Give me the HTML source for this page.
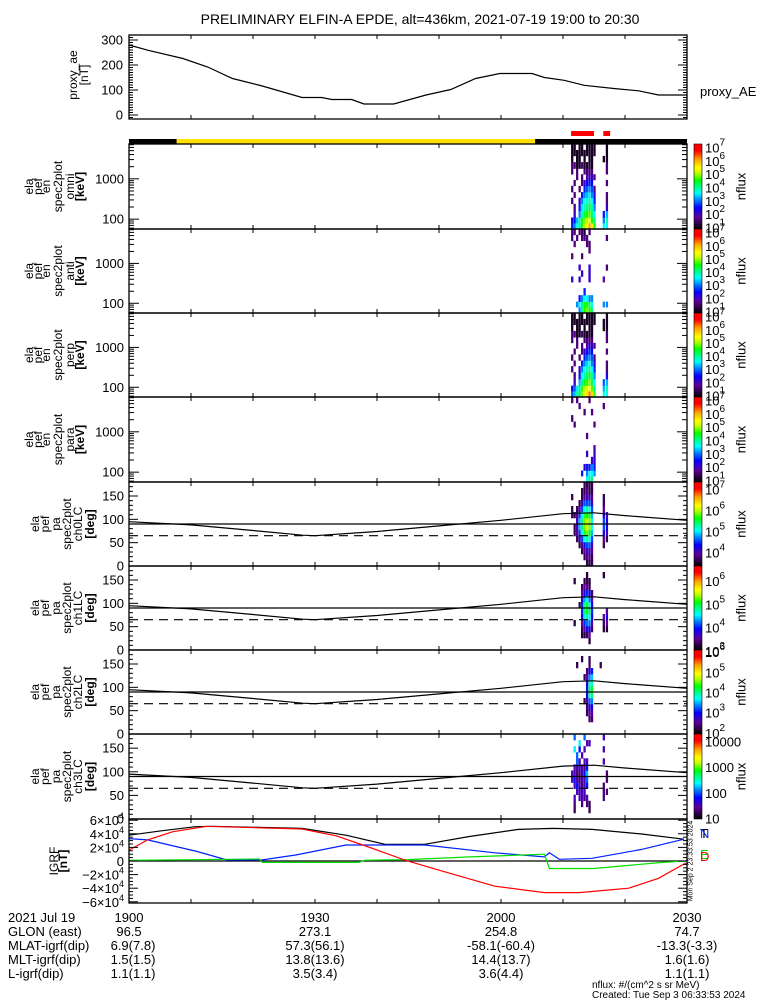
<!DOCTYPE html>
<html><head><meta charset="utf-8"><style>
html,body{margin:0;padding:0;background:#fff;}
svg{display:block;font-family:"Liberation Sans",sans-serif;}
</style></head><body>
<svg id="chart" width="775" height="1000" viewBox="0 0 775 1000" xmlns="http://www.w3.org/2000/svg">
<defs>
<linearGradient id="cmap" x1="0" y1="1" x2="0" y2="0">
<stop offset="0" stop-color="#000000"/><stop offset="0.06" stop-color="#2a0040"/><stop offset="0.14" stop-color="#6000a0"/>
<stop offset="0.25" stop-color="#0000ff"/><stop offset="0.35" stop-color="#0090ff"/><stop offset="0.42" stop-color="#00ffff"/>
<stop offset="0.5" stop-color="#00ff80"/><stop offset="0.57" stop-color="#00ff00"/><stop offset="0.66" stop-color="#c0ff00"/>
<stop offset="0.72" stop-color="#ffff00"/><stop offset="0.82" stop-color="#ffa000"/><stop offset="0.92" stop-color="#ff0000"/><stop offset="1" stop-color="#ff0000"/>
</linearGradient>
</defs>
<text x="420" y="24" font-size="14" text-anchor="middle">PRELIMINARY ELFIN-A EPDE, alt=436km, 2021-07-19 19:00 to 20:30</text>
</svg>
<script>
// ---------- data ----------
const aeTimes = [0,3.1,8.7,12.7,16.7,21.5,27.9,31.1,32.7,35.9,37.9,42.7,47.9,51.9,55.9,59.8,65,67,70.2,73.4,78.2,82.2,85.4,90];
const aeValues = [280,259,226,192,146,116,70,70,62,62,44,44,80,102,146,166,166,150,139,119,106,97,80,80];
const barSegStart = [0,7.7,65.5];
const barSegEnd = [7.7,65.5,90];
const barSegColor = ['#000','#ffe000','#000'];
const redMarkStart = [71.3,76.5];
const redMarkEnd = [75.0,77.6];
const colTimes = [71.3,71.7,72.1,72.5,72.9,73.3,73.7,74.1,74.5,74.9,75.9,76.4,76.9];
const colWidth = 0.32;
const energyEdges = [60,80,110,160,240,340,470,670,940,1300,1800,2600,3700,5200,7300];
const paEdges = [0,12.86,25.71,38.57,51.43,64.29,77.14,90,102.86,115.71,128.57,141.43,154.29,167.14,180];
const specOmni = [
[2.5,3,3.5,4,4.5,5,5.3,6,5.5,4.5,0,3.5,3.5],
[2.2,2.5,3.2,3.8,4.5,4.8,5,5.2,4.5,4,0,3,3.8],
[0,2,0,3,3.8,4.3,4.5,4.7,4,3.5,0,2.5,3.2],
[0,1.5,0,2.5,3.4,3.8,4,4.2,3.8,3,0,0,2],
[1.5,0,0,2,3,3.5,3.7,3.8,3.5,2.5,0,0,1.5],
[0,1.5,0,0,2.5,3,3.2,3.4,3,2,0,0,1.5],
[1.5,0,0,1.5,0,2.5,2.8,3,2.7,1.5,0,0,0],
[0,1.5,0,0,1.5,2,2.3,2.5,2.3,0,0,0,1.5],
[0,0,1.5,0,1.5,0,1.8,2,2,1.5,0,0,0],
[1.5,0,1.5,0,0,1.5,1.5,1.5,1.5,0,0,0,1.5],
[1.5,1.5,1,1,1.5,1,1,1.2,1,0,0,0,1.5],
[1,0,1,1,0,1,0,1,1,0,0,1,1],
[1,1,1,1,1,1,1,1,1,1,0,0,1],
[1,1,0,1,1,0,1,1,1,1,0,0,1]];
const specAnti = [
[0,0,0,3,4,4.5,4.8,4.5,4,0,0,0,0],
[0,0,3,3.5,4,4.5,4.5,4,3.5,0,0,3,3],
[0,0,0,2.5,3,3.5,3.5,3,3,0,0,0,0],
[0,0,0,0,0,2.5,0,0,0,0,0,0,0],
[0,0,0,0,0,0,0,0,0,0,0,0,0],
[2,0,0,2,0,0,0,2,0,0,0,1.8,0],
[0,0,0,0,2,0,0,2,0,0,0,0,0],
[0,0,0,2,0,0,0,2,0,0,0,0,1.5],
[0,0,0,0,0,0,0,0,0,0,0,0,0],
[1.5,0,0,0,1.5,0,0,0,0,0,0,0,0],
[0,0,0,0,0,0,0,1.5,0,0,0,0,0],
[0,1.5,0,0,0,0,1.5,1.5,0,0,0,0,0],
[1.5,0,1.5,0,1.5,1.5,1.5,0,0,0,0,0,1.5],
[1.5,1.5,0,1.5,1.5,1,0,1.5,0,0,0,0,0]];
const specPerp = [
[2.8,3.2,3.8,4.2,4.8,5.2,5.6,6.2,5.6,4.6,0,3.6,3.6],
[2.2,2.8,3.4,4,4.6,5,5.2,5.4,4.7,4.1,0,3.2,3.8],
[0,2,0,3.2,4,4.4,4.6,4.8,4.1,3.5,0,2.8,3.2],
[0,1.5,0,2.5,3.5,3.9,4.1,4.3,3.9,3,0,0,2.2],
[1.5,0,0,2,3,3.5,3.8,3.9,3.5,2.5,0,0,1.5],
[0,1.5,0,0,2.5,3,3.3,3.5,3,2,0,0,1.5],
[1.5,0,0,1.5,0,2.5,2.8,3,2.8,1.5,0,0,0],
[0,1.5,0,0,1.5,2,2.3,2.6,2.4,0,0,0,1.5],
[0,0,1.5,0,1.5,0,1.8,2.1,2,1.5,0,0,0],
[1.5,0,1.5,0,0,1.5,1.5,1.5,1.5,0,0,0,1.5],
[1.5,1.5,1,1,1.5,1,1,1.2,1,0,0,0,1.5],
[1,0,1,1,0,1,0,1,1,0,0,1,1],
[1,1,1,1,1,1,1,1,1,1,0,1,1],
[1,1,0,1,1,0,1,1,1,1,0,0,1]];
const specPara = [
[0,0,0,0,0,0,3.5,3.8,4,0,0,0,0],
[0,0,0,0,2.5,0,3,3.5,3.5,3,0,0,0],
[0,0,0,0,0,2,2.5,2.5,3,2.5,0,0,0],
[0,0,0,0,0,0,0,0,2,2,0,0,0],
[0,0,0,0,0,0,2,0,0,2,0,0,0],
[0,0,0,0,0,0,0,0,0,1.8,0,0,0],
[0,0,0,0,0,0,0,0,0,0,0,0,0],
[0,0,0,0,0,0,1.5,0,0,0,0,0,0],
[0,0,0,0,0,0,0,0,0,0,0,0,0],
[0,1.5,0,0,0,0,0,0,0,1.5,0,0,0],
[1.5,0,0,0,0,0,0,0,0,0,0,0,0],
[0,0,0,0,0,1.5,0,0,1.5,0,0,0,0],
[0,0,0,1.5,0,0,0,0,0,0,0,1.5,0],
[1.5,0,1.5,0,0,0,0,1.5,0,0,0,0,0]];
const paCh0 = [
[0,0,0,0,0,0,3.6,3.6,3.6,0,0,0,0],
[0,0,0,0,0,3.6,3.8,3.8,3.6,0,0,0,0],
[0,0,0,0,3.6,3.8,4,4,3.8,0,0,0,0],
[0,0,0,3.6,3.8,4.2,4.5,4.5,4,0,0,3.6,0],
[0,0,3.6,4,4.5,5,5.2,5,4.5,0,0,3.8,3.6],
[0,3.6,3.8,4.5,5,5.5,5.8,5.5,4.8,0,0,4.2,4],
[0,3.6,4,4.8,5.3,5.8,6,5.8,5,0,0,4.5,4.2],
[0,0,4,4.8,5.3,5.8,6,5.8,5,0,0,4.5,4.2],
[3.6,3.6,3.8,4.5,5,5.5,5.6,5.5,4.8,0,0,4.2,4],
[3.6,0,3.6,4,4.5,5,5.2,5,4.5,0,0,3.8,0],
[0,0,0,3.6,4,4.5,4.5,4.5,4,0,0,3.6,0],
[3.6,0,0,0,3.6,3.8,4,4,3.8,0,0,3.6,0],
[0,0,0,0,3.6,3.6,3.8,3.6,3.6,0,0,0,0],
[0,0,0,0,0,3.6,3.6,3.6,3.6,0,0,0,0]];
const paCh1 = [
[0,0,0,0,0,0,0,0,0,0,0,0,0],
[0,0,0,0,0,0,0,3.2,0,0,0,0,0],
[0,0,0,0,3.2,3.2,3.3,3.5,0,0,0,0,0],
[0,0,0,0,3.3,3.5,3.8,3.8,3.3,0,0,3.2,3.2],
[0,3.2,0,0,3.5,4,4.2,4.2,3.5,0,0,3.3,3.5],
[0,0,0,0,3.8,4.5,4.7,4.5,3.8,0,0,3.5,3.8],
[0,0,0,0,4,4.8,5,4.8,4,0,0,0,3.5],
[0,0,0,3.3,4,4.8,5,4.5,3.8,0,0,0,0],
[0,0,0,0,3.8,4.3,4.5,4.2,3.5,0,0,0,0],
[0,0,0,0,3.5,3.8,4,3.8,3.3,0,0,0,0],
[0,0,0,0,3.3,3.5,3.5,3.3,0,0,0,0,0],
[0,3.2,0,0,0,3.2,3.3,3.2,0,0,0,0,0],
[0,0,0,0,0,0,3.2,0,0,0,0,3.2,0],
[0,0,0,0,0,0,0,0,0,0,0,0,0]];
const paCh2 = [
[0,0,0,0,0,0,0,0,0,0,0,0,0],
[0,0,0,0,0,0,0,0,0,0,0,0,0],
[0,0,0,0,0,0,0,2.3,2.3,0,0,0,0],
[0,0,0,0,0,0,2.2,2.5,2.5,0,0,0,0],
[0,0,0,0,0,0,2.3,2.8,2.8,0,0,0,0],
[0,0,0,0,0,2.2,2.5,3.2,3.3,0,0,0,0],
[0,0,0,0,0,0,2.8,3.8,4,0,0,0,0],
[0,0,0,0,0,0,3,4,4.2,0,0,0,0],
[0,0,0,0,0,0,2.8,3.8,3.8,0,0,0,0],
[0,0,0,0,0,2.2,2.5,3.3,3.5,0,0,0,0],
[0,0,0,0,0,0,2.3,2.8,3,0,0,0,0],
[0,0,2.2,0,0,0,0,2.3,0,0,2.2,0,0],
[0,0,0,0,2.2,0,0,2.2,0,0,0,0,0],
[0,0,0,0,0,0,0,0,0,0,0,0,0]];
const paCh3 = [
[0,0,0,0,0,0,0,0,0,0,0,0,0],
[0,1.2,0,0,0,0,0,1.2,0,0,0,0,0],
[0,1.3,0,0,1.3,0,1.3,1.2,0,0,0,0,0],
[0,1.5,0,1.5,1.5,1.3,1.5,0,0,0,0,1.3,0],
[0,0,1.5,1.5,1.5,1.5,0,0,0,0,0,1.3,1.3],
[0,1.5,1.8,1.5,1.3,1.5,1.8,0,0,0,0,1.3,0],
[1.5,1.8,1.5,1.3,1.5,1.5,2,0,0,0,0,0,1.3],
[1.5,1.5,1.3,1.3,1.5,1.8,2.2,0,0,0,0,0,1.3],
[0,1.5,1.5,1.5,1.5,1.3,1.8,0,0,0,0,0,0],
[0,0,2,1.5,0,1.5,1.5,0,0,0,0,1.5,0],
[0,0,2,0,1.5,0,0,0,0,0,0,0,0],
[0,2.3,0,1.8,0,1.5,0,0,0,0,0,1.5,0],
[0,0,0,2.3,0,0,1.5,1.5,0,0,0,0,0],
[0,2,0,0,0,2,0,0,0,0,0,1.5,0]];
const lcTimes = [0,10,20,28,30,40,50,60,70,75,80,90];
const lcValues = [95,88,76,66,65,74,86,98,112,114,108,98];
const paSolidLine = 90;
const paDashedLine = 65;
const igrfTimes = [0,3,7,12.5,27.9,33.4,38.2,44.6,51,59,67,72.6,80.6,85.4,89.8];
const igrfD = [1.6,3.1,4.3,5.1,4.7,3.7,2.2,0.1,-1.6,-3.7,-4.65,-4.65,-4.0,-2.55,-0.3];
const igrfTTimes = [0,5.4,10.7,13.5,27.9,35,41.3,47.7,54.9,62.8,68.4,74.7,82.7,89.5];
const igrfT = [3.8,4.45,5.05,5.1,4.8,3.8,2.45,2.45,3.6,4.65,4.8,4.65,3.97,3.2];
const igrfNTimes = [0,3,11,15.8,21.4,27,35,47.7,59,67,67.8,69.4,74.7,82.7,89.5];
const igrfN = [3.3,3.1,1.4,0.15,0.15,0.9,2.35,2.35,1.2,0.6,1.2,0.25,0.4,1.7,3.2];
const igrfETimes = [0,21,21.5,37,38,45,55,67,67.8,75,86,90];
const igrfE = [0.1,0.3,-0.2,-0.2,0.1,0.2,0.6,1.0,-1.1,-1.1,-0.2,0];
const footRowLabels = ['2021 Jul 19','GLON (east)','MLAT-igrf(dip)','MLT-igrf(dip)','L-igrf(dip)'];
const footTimes = [0,30,60,90];
const footTimeLabels = ['1900','1930','2000','2030'];
const footGlon = ['96.5','273.1','254.8','74.7'];
const footMlat = ['6.9(7.8)','57.3(56.1)','-58.1(-60.4)','-13.3(-3.3)'];
const footMlt = ['1.5(1.5)','13.8(13.6)','14.4(13.7)','1.6(1.6)'];
const footL = ['1.1(1.1)','3.5(3.4)','3.6(4.4)','1.1(1.1)'];

// ---------- helpers ----------
const svg = document.getElementById('chart');
const NS = 'http://www.w3.org/2000/svg';
const X0 = 129, X1 = 687;
function xs(t){ return X0 + t/90*(X1-X0); }
function mk(tag, at, parent){
  const e = document.createElementNS(NS, tag);
  for (const k in at) e.setAttribute(k, at[k]);
  (parent||svg).appendChild(e);
  return e;
}
const stops = [[0,[0,0,0]],[0.06,[42,0,64]],[0.14,[96,0,160]],[0.25,[0,0,255]],[0.35,[0,144,255]],[0.42,[0,255,255]],[0.5,[0,255,128]],[0.57,[0,255,0]],[0.66,[192,255,0]],[0.72,[255,255,0]],[0.82,[255,160,0]],[0.92,[255,0,0]],[1,[255,0,0]]];
function cmap(v){
  v = Math.max(0, Math.min(1, v));
  for (let i=1;i<stops.length;i++){
    if (v <= stops[i][0]){
      const a=stops[i-1], b=stops[i], f=(v-a[0])/(b[0]-a[0]);
      const c=a[1].map((q,j)=>Math.round(q+(b[1][j]-q)*f));
      return 'rgb('+c.join(',')+')';
    }
  }
  return 'rgb(255,0,0)';
}
function rotLabel(lines, xsArr, cy, bold, name){
  const g = mk('g', {});
  
  
  lines.forEach((s,i)=>{
    const t = mk('text', {x:0, y:0, 'font-size':12, 'text-anchor':'middle', 'dominant-baseline':'central', transform:'translate('+xsArr[i]+','+cy+') rotate(-90)'}, g);
    if (bold && i===lines.length-1) t.setAttribute('font-weight','bold');
    t.textContent = s;
  });
}
function xTicks(top, bot, g){
  for (let m=10;m<90;m+=10){
    const x = xs(m);
    mk('line', {x1:x, x2:x, y1:bot, y2:bot-4, stroke:'#000'}, g);
    mk('line', {x1:x, x2:x, y1:top, y2:top+4, stroke:'#000'}, g);
  }
}
function frame(top, bot, name){
  const r = mk('rect', {x:X0, y:top, width:X1-X0, height:bot-top, fill:'none', stroke:'#000', 'stroke-width':1.3});
  
  
}
function tickLabel(x, y, txt, name){
  const t = mk('text', {x:x, y:y, 'font-size':13, 'text-anchor':'end', 'dominant-baseline':'central'});
  t.textContent = txt;
  
  
}
function colorbar(top, bot, vmin, vmax, labels, sup, name){
  const g = mk('g', {});
  
  
  mk('rect', {x:694, y:top, width:8, height:bot-top, fill:'url(#cmap)', stroke:'#000', 'stroke-width':0.6}, g);
  labels.forEach(p=>{
    const y = bot - (p - vmin)/(vmax-vmin)*(bot-top);
    const t = mk('text', {x:705, y:y+6, 'font-size':13}, g);
    if (sup){
      t.textContent = '10';
      const s = mk('tspan', {'font-size':10, dy:-7}, t);
      s.textContent = String(p);
    } else {
      t.textContent = String(Math.pow(10,p));
    }
  });
  const nf = mk('text', {x:0, y:0, 'font-size':13, 'text-anchor':'middle', 'dominant-baseline':'central', transform:'translate(741,'+((top+bot)/2)+') rotate(-90)'}, g);
  nf.textContent = 'nflux';
}
function drawCells(mat, edges, yfun, vmin, vmax, g, cellName){
  mat.forEach((row, r)=>{
    row.forEach((v, c)=>{
      if (!v) return;
      const xa = xs(colTimes[c]), xb = xs(colTimes[c]+colWidth);
      const ya = yfun(edges[r+1]), yb = yfun(edges[r]);
      const rc = mk('rect', {x:xa, y:ya, width:xb-xa+0.3, height:yb-ya+0.3, fill:cmap((v-vmin)/(vmax-vmin))}, g);
      
      
    });
  });
}
function polyline(times, vals, xf, yf, color, g, name, dash){
  const pts = times.map((t,i)=>xf(t).toFixed(1)+','+yf(vals[i]).toFixed(1)).join(' ');
  const p = mk('polyline', {points:pts, fill:'none', stroke:color, 'stroke-width':1.2}, g);
  if (dash) p.setAttribute('stroke-dasharray', dash);
  
  
}

// ---------- top proxy AE panel ----------
(function(){
  const top=35, bot=119;
  const yv = v => 115 - v*0.25;
  const g = mk('g', {});
  
  
  polyline(aeTimes, aeValues, xs, yv, '#000', g, 'proxy-ae-line');
  for (let v=-10; v<=320; v+=10){
    const y = yv(v); if (y<top||y>bot) continue;
    const L = v%100===0 ? 9 : 4;
    mk('line', {x1:X0, x2:X0+L, y1:y, y2:y, stroke:'#000'}, g);
    mk('line', {x1:X1, x2:X1-L, y1:y, y2:y, stroke:'#000'}, g);
  }
  xTicks(top, bot, g);
  frame(top, bot, 'proxy-ae-frame');
  [0,100,200,300].forEach(v=>tickLabel(123, yv(v), String(v), 'proxy-ae-tick-label'));
  rotLabel(['proxy_ae','[nT]'], [73,84], 75, false, 'proxy-ae-y-axis-title');
  const t = mk('text', {x:700, y:96, 'font-size':13});
  t.textContent = 'proxy_AE';
  
  
})();

// ---------- region bar ----------
barSegStart.forEach((s,i)=>{
  const r = mk('rect', {x:xs(s), y:139, width:xs(barSegEnd[i])-xs(s), height:5, fill:barSegColor[i]});
  
  
});
redMarkStart.forEach((s,i)=>{
  const r = mk('rect', {x:xs(s), y:131, width:xs(redMarkEnd[i])-xs(s), height:5, fill:'#ff0000'});
  
  
});

// ---------- energy spectrogram panels ----------
const enPanels = [[144,229,specOmni,'omni'],[229,313,specAnti,'anti'],[313,397,specPerp,'perp'],[397,482,specPara,'para']];
enPanels.forEach(([top,bot,mat,nm])=>{
  const lt = Math.log10(7300), lb = Math.log10(57);
  const ey = E => top + (lt - Math.log10(E))/(lt-lb)*(bot-top);
  const g = mk('g', {});
  
  
  drawCells(mat, energyEdges, ey, 0.8, 7.2, g, 'spectrogram-cell');
  for (let d=10; d<=1000; d*=10){
    for (let k=1;k<10;k++){
      const E=d*k, y=ey(E); if (y<top||y>bot) continue;
      const L = k===1 ? 10 : 5;
      mk('line', {x1:X0, x2:X0+L, y1:y, y2:y, stroke:'#000'}, g);
      mk('line', {x1:X1, x2:X1-L, y1:y, y2:y, stroke:'#000'}, g);
    }
  }
  xTicks(top, bot, g);
  frame(top, bot, 'spectrogram-frame-'+nm);
  tickLabel(124, ey(1000), '1000', 'energy-tick-label');
  tickLabel(124, ey(100), '100', 'energy-tick-label');
  rotLabel(['ela','pef','en','spec2plot',nm,'[keV]'], [29,38,46,58,70,80], (top+bot)/2, true, 'spectrogram-y-axis-title-'+nm);
  colorbar(top, bot, 0.8, 7.2, [1,2,3,4,5,6,7], true, 'colorbar-'+nm);
});

// ---------- pitch angle panels ----------
const paPanels = [[482,566,paCh0,'ch0LC',3.3,7.3,[4,5,6,7],true],[566,650,paCh1,'ch1LC',3.0,6.6,[3,4,5,6],true],[650,734,paCh2,'ch2LC',1.9,6.05,[2,3,4,5,6],true],[734,819,paCh3,'ch3LC',0.95,4.25,[1,2,3,4],false]];
paPanels.forEach(([top,bot,mat,nm,vmin,vmax,labs,sup])=>{
  const py = v => bot - v/180*(bot-top);
  const g = mk('g', {});
  
  
  drawCells(mat, paEdges, py, vmin, vmax, g, 'pitch-angle-cell');
  polyline(lcTimes, lcValues, xs, py, '#000', g, 'loss-cone-line');
  polyline([0,90], [paSolidLine,paSolidLine], xs, py, '#000', g, 'pa-90-line');
  polyline([0,90], [paDashedLine,paDashedLine], xs, py, '#000', g, 'antiloss-cone-line', '9,6');
  for (let v=0; v<=180; v+=10){
    const y=py(v); const L = v%50===0 ? 9 : 4;
    mk('line', {x1:X0, x2:X0+L, y1:y, y2:y, stroke:'#000'}, g);
    mk('line', {x1:X1, x2:X1-L, y1:y, y2:y, stroke:'#000'}, g);
  }
  xTicks(top, bot, g);
  frame(top, bot, 'pitch-angle-frame-'+nm);
  [0,50,100,150].forEach(v=>tickLabel(124, py(v), String(v), 'pa-tick-label'));
  rotLabel(['ela','pef','pa','spec2plot',nm,'[deg]'], [35,45,56,67,78,90], (top+bot)/2, true, 'pitch-angle-y-axis-title-'+nm);
  colorbar(top, bot, vmin, vmax, labs, sup, 'colorbar-'+nm);
});

// ---------- IGRF panel ----------
(function(){
  const top=819, bot=903;
  const iy = v => 861 - v*6.8;
  const g = mk('g', {});
  
  
  polyline([0,90],[0,0], xs, iy, '#000', g, 'igrf-zero-line');
  polyline(igrfTTimes, igrfT, xs, iy, '#000', g, 'igrf-total-line');
  polyline(igrfNTimes, igrfN, xs, iy, '#0020ff', g, 'igrf-n-line');
  polyline(igrfETimes, igrfE, xs, iy, '#00e000', g, 'igrf-e-line');
  polyline(igrfTimes, igrfD, xs, iy, '#ff0000', g, 'igrf-d-line');
  for (let v=-6; v<=6; v+=0.5){
    const y=iy(v); if (y<top||y>bot) continue;
    const L = Math.abs(v%2)<0.01 ? 9 : 4;
    mk('line', {x1:X0, x2:X0+L, y1:y, y2:y, stroke:'#000'}, g);
    mk('line', {x1:X1, x2:X1-L, y1:y, y2:y, stroke:'#000'}, g);
  }
  xTicks(top, bot, g);
  frame(top, bot, 'igrf-frame');
  [-6,-4,-2,0,2,4,6].forEach(v=>{
    const t = mk('text', {x:124, y:iy(v)+5, 'font-size':13, 'text-anchor':'end'});
    
    
    if (v===0){ t.textContent='0'; return; }
    t.textContent = (v<0?'\u2212':'')+Math.abs(v)+'\u00d710';
    const s = mk('tspan', {'font-size':9, dy:-6}, t);
    s.textContent = '4';
  });
  rotLabel(['IGRF','[nT]'], [54,63], 861, true, 'igrf-y-axis-title');
  const leg = [['T','#000',838],['N','#0020ff',838],['E','#00e000',859],['D','#ff0000',861]];
  leg.forEach(([s,c,y])=>{
    const t = mk('text', {x:700, y:y, 'font-size':13, fill:c});
    t.textContent = s;
    
    
  });
  const d = mk('text', {x:0, y:0, 'font-size':7, 'text-anchor':'middle', 'dominant-baseline':'central', transform:'translate(691,861) rotate(-90)'});
  d.textContent = 'Mon Sep  2 23:33:53 2024';
  
  
})();

// ---------- footer ----------
const footRows = [footTimeLabels, footGlon, footMlat, footMlt, footL];
footRowLabels.forEach((lab,i)=>{
  const y = 922 + i*14;
  const t = mk('text', {x:8, y:y, 'font-size':13});
  t.textContent = lab;
  
  
  footRows[i].forEach((v,j)=>{
    const tv = mk('text', {x:xs(footTimes[j])+(i>=2&&j===0?4:0), y:y, 'font-size':13, 'text-anchor':'middle'});
    tv.textContent = v;
    
    
  });
});
const n1 = mk('text', {x:592, y:988, 'font-size':10});
n1.textContent = 'nflux: #/(cm^2 s sr MeV)';


const n2 = mk('text', {x:592, y:998, 'font-size':10});
n2.textContent = 'Created: Tue Sep  3 06:33:53 2024';


</script>
</body></html>
